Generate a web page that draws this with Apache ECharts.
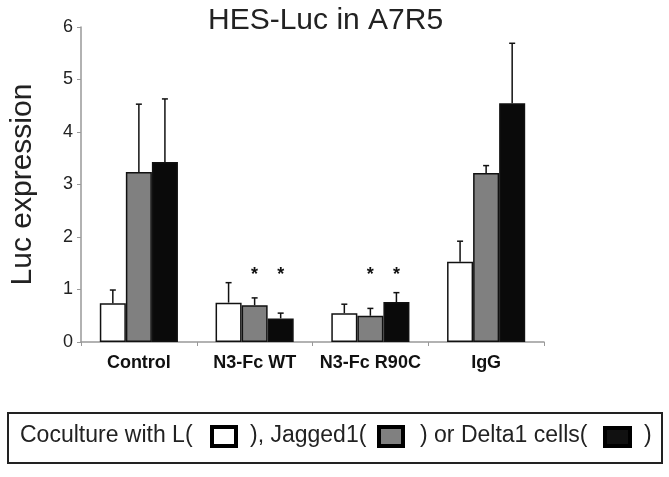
<!DOCTYPE html>
<html>
<head>
<meta charset="utf-8">
<script src="https://cdn.jsdelivr.net/npm/echarts@6/dist/echarts.min.js"></script>
<style>
  html, body { margin: 0; padding: 0; background: #fff; }
  #chart { width: 669px; height: 477px; }
</style>
</head>
<body>
<div id="chart"></div>
<script>
// data
const categories = ['Control', 'N3-Fc WT', 'N3-Fc R90C', 'IgG']
const seriesNames = ['L', 'Jagged1', 'Delta1']
const lValues = [0.74, 0.75, 0.55, 1.53]
const lErr = [0.25, 0.38, 0.17, 0.39]
const jaggedValues = [3.24, 0.70, 0.50, 3.22]
const jaggedErr = [1.29, 0.14, 0.14, 0.14]
const deltaValues = [3.43, 0.45, 0.76, 4.55]
const deltaErr = [1.20, 0.10, 0.18, 1.14]
// significance stars (1 = star shown above the bar)
const lSig = [0, 0, 0, 0]
const jaggedSig = [0, 1, 1, 0]
const deltaSig = [0, 1, 1, 0]
const starLevel = 1.27
const yTicks = [0, 1, 2, 3, 4, 5, 6]

const colors = ['#ffffff', '#808080', '#0a0a0a']
const FONT = 'Liberation Sans, Arial, sans-serif'
const BAR_FRAC = 0.225

const values = [lValues, jaggedValues, deltaValues]
const errs = [lErr, jaggedErr, deltaErr]
const sigs = [lSig, jaggedSig, deltaSig]

const chart = echarts.init(document.getElementById('chart'))

// bars
const barSeries = seriesNames.map((name, k) => ({
  name: name,
  type: 'bar',
  data: values[k],
  barWidth: (BAR_FRAC * 100) + '%',
  barGap: '0%',
  itemStyle: {
    color: colors[k],
    borderColor: '#111',
    borderWidth: 1.5
  },
  z: 2
}))

// error bars (upper only) + stars
const errSeries = seriesNames.map((name, k) => ({
  name: name + ' err',
  type: 'custom',
  data: categories.map((c, i) => [i, values[k][i], errs[k][i], sigs[k][i]]),
  encode: { x: 0, y: 1 },
  z: 3,
  silent: true,
  renderItem: function (params, api) {
    const cat = api.value(0)
    const v = api.value(1)
    const e = api.value(2)
    const sig = api.value(3)
    const band = api.size([1, 0])[0]
    const off = (k - 1) * band * BAR_FRAC
    const base = api.coord([cat, v])
    const top = api.coord([cat, v + e])
    const x = base[0] + off
    const children = [
      { type: 'line', shape: { x1: x, y1: base[1], x2: x, y2: top[1] }, style: { stroke: '#111', lineWidth: 1.5 } },
      { type: 'line', shape: { x1: x - 3, y1: top[1], x2: x + 3, y2: top[1] }, style: { stroke: '#111', lineWidth: 1.5 } }
    ]
    if (sig) {
      const sy = api.coord([cat, starLevel])[1]
      children.push({
        type: 'text',
        style: { text: '*', x: x, y: sy, align: 'center', verticalAlign: 'middle', font: 'bold 18px ' + FONT, fill: '#111' }
      })
    }
    return { type: 'group', children: children }
  }
}))

// legend drawn as a boxed sentence
const legendY = 436
const legendGraphics = [
  { type: 'rect', shape: { x: 8, y: 413, width: 654, height: 50 }, style: { fill: '#fff', stroke: '#222', lineWidth: 2 } },
  { type: 'text', x: 20, y: legendY, style: { text: 'Coculture with L(', font: '23px ' + FONT, fill: '#222', verticalAlign: 'middle' } },
  { type: 'rect', shape: { x: 212, y: 427, width: 24, height: 19 }, style: { fill: colors[0], stroke: '#000', lineWidth: 4 } },
  { type: 'text', x: 250, y: legendY, style: { text: '), Jagged1(', font: '23px ' + FONT, fill: '#222', verticalAlign: 'middle' } },
  { type: 'rect', shape: { x: 379, y: 427, width: 24, height: 19 }, style: { fill: colors[1], stroke: '#000', lineWidth: 4 } },
  { type: 'text', x: 420, y: legendY, style: { text: ') or Delta1 cells(', font: '23px ' + FONT, fill: '#222', verticalAlign: 'middle' } },
  { type: 'rect', shape: { x: 605, y: 428, width: 25, height: 18 }, style: { fill: '#111', stroke: '#000', lineWidth: 4 } },
  { type: 'text', x: 644, y: legendY, style: { text: ')', font: '23px ' + FONT, fill: '#222', verticalAlign: 'middle' } }
]

chart.setOption({
  animation: false,
  backgroundColor: '#fff',
  title: {
    text: 'HES-Luc in A7R5',
    left: 208,
    top: 6,
    padding: 0,
    textStyle: { fontFamily: FONT, fontSize: 30, fontWeight: 'normal', color: '#222' }
  },
  grid: { left: 81, right: 125, top: 27, bottom: 135 },
  xAxis: {
    type: 'category',
    data: categories,
    axisLine: { lineStyle: { color: '#999', width: 1.5 } },
    axisTick: { show: true, length: 4, lineStyle: { color: '#999' } },
    axisLabel: { interval: 0, fontFamily: FONT, fontSize: 18, fontWeight: 'bold', color: '#111', margin: 12 }
  },
  yAxis: {
    type: 'value',
    min: yTicks[0],
    max: yTicks[yTicks.length - 1],
    interval: 1,
    name: 'Luc expression',
    nameLocation: 'middle',
    nameRotate: 90,
    nameGap: 43,
    nameTextStyle: { fontFamily: FONT, fontSize: 30, color: '#222' },
    axisLine: { show: true, lineStyle: { color: '#999', width: 1.5 } },
    axisTick: { show: true, length: 4, lineStyle: { color: '#999' } },
    splitLine: { show: false },
    axisLabel: { fontFamily: FONT, fontSize: 18, color: '#222', margin: 8 }
  },
  graphic: legendGraphics,
  series: barSeries.concat(errSeries)
})
</script>
</body>
</html>
